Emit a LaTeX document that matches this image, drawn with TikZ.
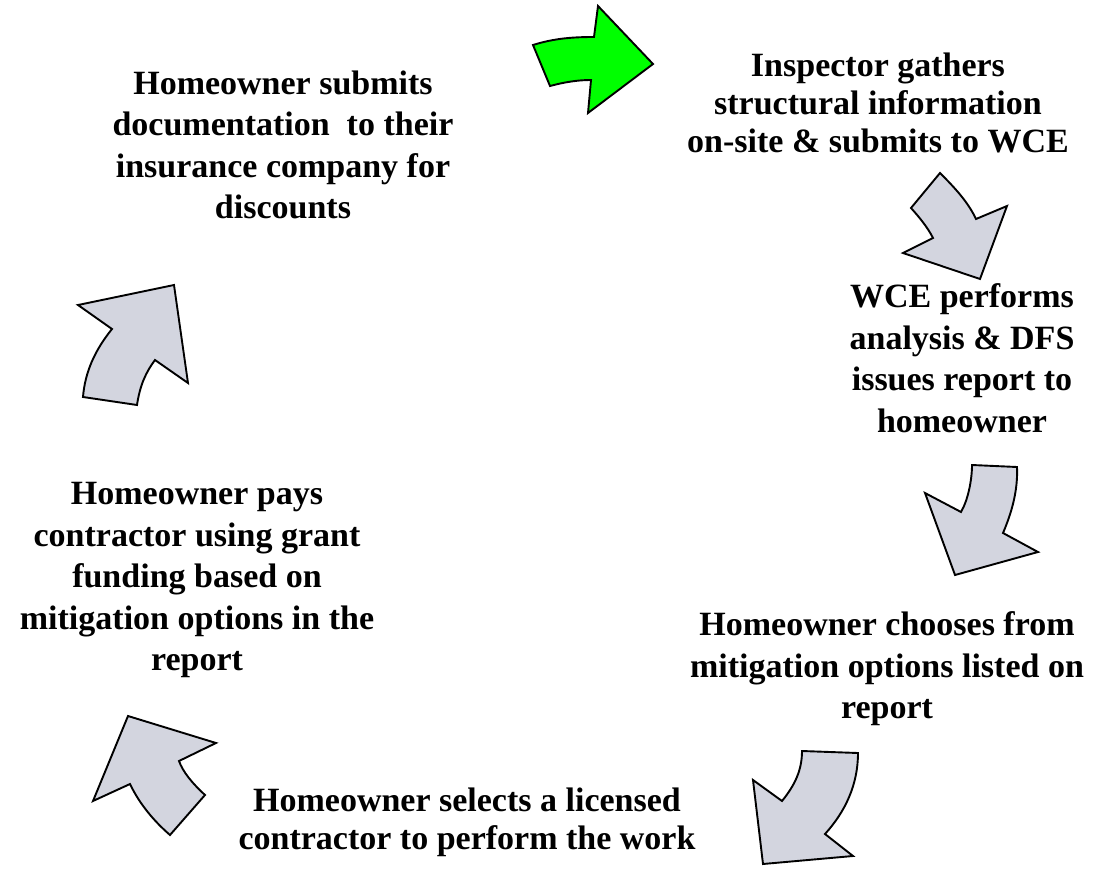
\documentclass[tikz,border=0pt]{standalone}
\usepackage{fontspec}
\setmainfont{Liberation Serif}
\definecolor{arrowgray}{HTML}{D3D5DF}
\definecolor{arrowgreen}{HTML}{00FF00}
\begin{document}
\begin{tikzpicture}[x=1pt,y=-1pt,
  blockarrow/.style={draw=black, line width=1.9pt, line join=miter, fill=arrowgray},
  greenblock/.style={blockarrow, fill=arrowgreen},
  lbl/.style={font=\bfseries\fontsize{34}{41.5}\selectfont, align=center, inner sep=0pt},
  lbltight/.style={font=\bfseries\fontsize{34}{38}\selectfont, align=center, inner sep=0pt}]
\useasboundingbox (0,0) rectangle (1096,883);

% labels
\node[lbl] (submit) at (283,145) {Homeowner submits\\documentation\ \ to their\\insurance company for\\discounts};
\node[lbltight] (inspect) at (878,103) {Inspector gathers\\structural information\\on-site \& submits to WCE};
\node[lbl] (wce) at (962,358) {WCE performs\\analysis \& DFS\\issues report to\\homeowner};
\node[lbl] (choose) at (887,669) {Homeowner chooses from\\mitigation options listed on\\report};
\node[lbltight] (select) at (467,822) {Homeowner selects a licensed\\contractor to perform the work};
\node[lbl] (pays) at (197,580) {Homeowner pays\\contractor using grant\\funding based on\\mitigation options in the\\report};

% arrow 1 (green)
\draw[greenblock] (533,45) .. controls (555,38) and (575,37) .. (594,37)
  -- (598,6) -- (653,64) -- (588,113) -- (591,80)
  .. controls (578,80) and (565,82) .. (550,86) -- cycle;
% arrow 2
\draw[blockarrow] (940,173) .. controls (955,188) and (968,202) .. (976,219)
  -- (1007,206) -- (980,279) -- (903,253) -- (933,238)
  .. controls (928,228) and (920,218) .. (911,208) -- cycle;
% arrow 3
\draw[blockarrow] (972,465) -- (1017,467)
  .. controls (1018,490) and (1012,512) .. (1003,533)
  -- (1038,552) -- (955,575) -- (925,493) -- (961,512)
  .. controls (968,500) and (972,480) .. cycle;
% arrow 4
\draw[blockarrow] (802,751) -- (858,753)
  .. controls (858,785) and (845,812) .. (825,834)
  -- (853,856) -- (763,864) -- (753,780) -- (782,801)
  .. controls (795,785) and (802,770) .. cycle;
% arrow 5
\draw[blockarrow] (170,835) -- (205,795)
  .. controls (192,783) and (183,772) .. (179,761)
  -- (216,743) -- (128,716) -- (93,801) -- (130,784)
  .. controls (140,805) and (155,822) .. cycle;
% arrow 6
\draw[blockarrow] (83,397) -- (137,405)
  .. controls (140,385) and (146,372) .. (155,360)
  -- (188,383) -- (174,285) -- (78,305) -- (112,329)
  .. controls (95,350) and (85,372) .. cycle;
\end{tikzpicture}
\end{document}
